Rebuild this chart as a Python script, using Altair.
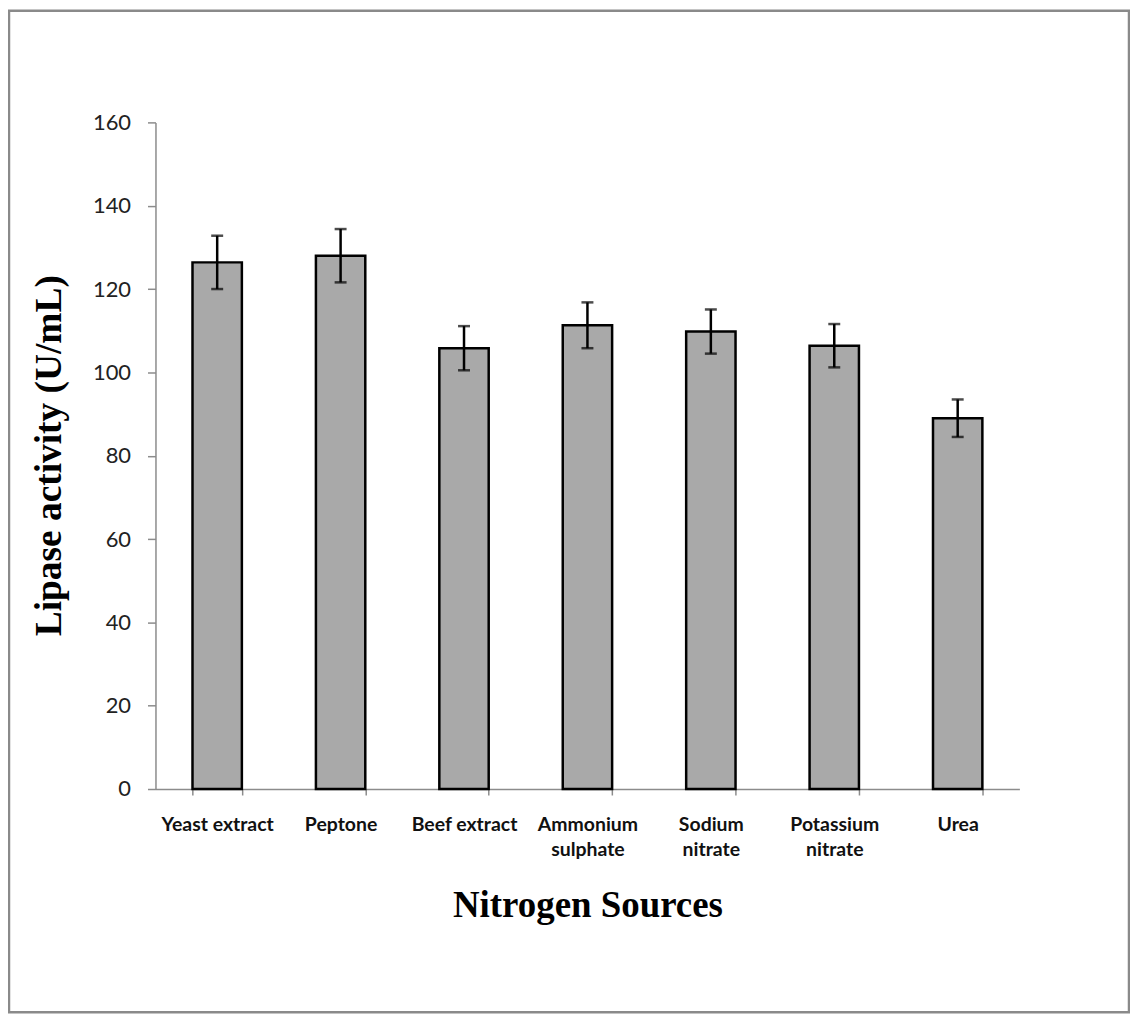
import altair as alt
import pandas as pd

sources = ["Yeast  extract", "Peptone", "Beef extract", "Ammonium\nsulphate",
           "Sodium\nnitrate", "Potassium\nnitrate", "Urea"]
activity = [126.4, 128.0, 105.8, 111.3, 109.8, 106.4, 89.0]
error = [6.4, 6.4, 5.3, 5.5, 5.3, 5.2, 4.5]

df = pd.DataFrame({"source": sources, "activity": activity, "err": error})
df["lo"] = df["activity"] - df["err"]
df["hi"] = df["activity"] + df["err"]

W, H = 867, 669
PAD = {"left": 148, "top": 113, "right": 111, "bottom": 225}

xscale = alt.Scale(paddingInner=0.6, paddingOuter=0.3)
xenc = alt.X("source:N", sort=sources, scale=xscale,
             axis=alt.Axis(title="Nitrogen Sources", labelAngle=0,
                           labelExpr="split(datum.label, '\\n')",
                           labelFont="Lato", labelFontSize=19.5, labelFontWeight="bold",
                           labelColor="#111", labelLineHeight=25, labelPadding=21,
                           labelBaseline="top",
                           tickBand="extent", tickSize=6, tickColor="#8c8c8c", tickWidth=1.5,
                           domainColor="#8c8c8c", domainWidth=1.5,
                           titleFont="Liberation Serif", titleFontSize=37,
                           titleFontWeight="bold", titleColor="#000",
                           titleY=128, titleBaseline="alphabetic"))
yscale = alt.Scale(domain=[0, 160])
yaxis = alt.Axis(title="Lipase activity (U/mL)", values=[0, 20, 40, 60, 80, 100, 120, 140, 160],
                 grid=False, labelFont="Lato", labelFontSize=22, labelColor="#222",
                 labelPadding=17, tickSize=8, tickColor="#8c8c8c", tickWidth=1.5,
                 domainColor="#8c8c8c", domainWidth=1.5,
                 titleFont="Liberation Serif", titleFontSize=37.5, titleFontWeight="bold",
                 titleColor="#000", titleX=-106, titleY=334, titleAngle=270,
                 titleAlign="center", titleBaseline="middle")

base = alt.Chart(df)

bars = base.mark_bar(fill="#a9a9a9", stroke="#000", strokeWidth=2.5).encode(
    x=xenc,
    y=alt.Y("activity:Q", scale=yscale, axis=yaxis),
)
rules = base.mark_rule(color="#000", strokeWidth=2.5).encode(
    x=alt.X("source:N", sort=sources, scale=xscale),
    y=alt.Y("lo:Q", scale=yscale),
    y2="hi:Q",
)
cap_lo = base.mark_tick(color="#000", size=12, thickness=2.5).encode(
    x=alt.X("source:N", sort=sources, scale=xscale),
    y=alt.Y("lo:Q", scale=yscale),
)
cap_hi = base.mark_tick(color="#000", size=12, thickness=2.5).encode(
    x=alt.X("source:N", sort=sources, scale=xscale),
    y=alt.Y("hi:Q", scale=yscale),
)
border = alt.Chart(pd.DataFrame({"k": [0]})).mark_rect(
    fill=None, fillOpacity=0, stroke="#8a8a8a", strokeWidth=2.5
).encode(
    x=alt.value(-147), x2=alt.value(W + 110),
    y=alt.value(-112), y2=alt.value(H + 224),
)

chart = alt.layer(bars, rules, cap_lo, cap_hi, border).properties(
    width=W, height=H,
    autosize=alt.AutoSizeParams(type="none"),
    padding=PAD,
    background="white",
).configure_view(stroke=None)

chart.save("out.html", embed_options={"renderer": "svg", "actions": False})
